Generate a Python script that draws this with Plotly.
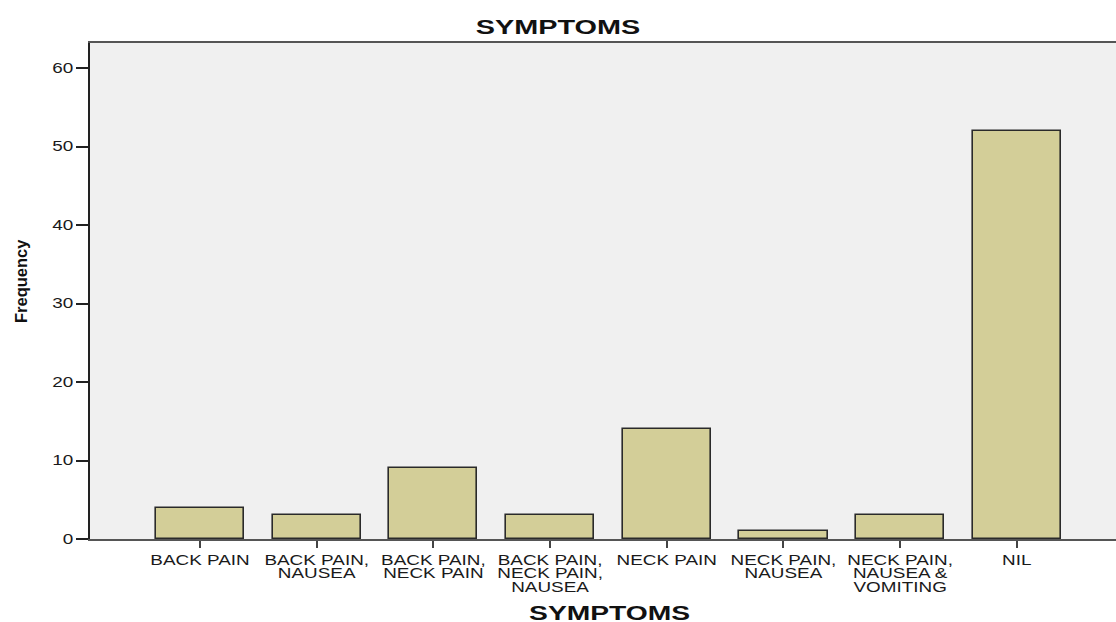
import plotly.graph_objects as go

categories = ["BACK PAIN", "BACK PAIN,<br>NAUSEA", "BACK PAIN,<br>NECK PAIN",
              "BACK PAIN,<br>NECK PAIN,<br>NAUSEA", "NECK PAIN", "NECK PAIN,<br>NAUSEA",
              "NECK PAIN,<br>NAUSEA &<br>VOMITING", "NIL"]
frequency = [4, 3, 9, 3, 14, 1, 3, 52]
y_ticks = [0, 10, 20, 30, 40, 50, 60]

FONT = "Liberation Sans, Arial, sans-serif"

fig = go.Figure(go.Bar(
    x=categories, y=frequency, width=0.755,
    marker=dict(color="#D3CE98", line=dict(color="#2a2a2a", width=1.6)),
))

fig.update_layout(
    width=1116, height=622,
    margin=dict(l=90, r=0, t=43, b=83),
    paper_bgcolor="white", plot_bgcolor="#F0F0F0",
    font=dict(family=FONT, color="#1a1a1a"),
    title=dict(text="<b>SYMPTOMS</b>", x=0.5, xanchor="center",
               yref="container", y=1 - 27 / 622, yanchor="middle",
               font=dict(size=19.5, color="#111")),
    showlegend=False,
    bargap=0,
    annotations=[
        dict(text="<b>SYMPTOMS</b>", xref="paper", yref="paper",
             x=(609.5 - 90) / 1026, y=(539 - 613) / 496,
             xanchor="center", yanchor="middle", showarrow=False,
             font=dict(size=19.5, color="#111", family=FONT)),
        dict(text="<b>Frequency</b>", xref="paper", yref="paper",
             x=(21 - 90) / 1026, y=(539 - 281) / 496, textangle=-90,
             xanchor="center", yanchor="middle", showarrow=False,
             font=dict(size=16.5, color="#111", family=FONT)),
    ],
)
fig.update_xaxes(
    type="category", range=[-0.943, 7.85],
    showline=True, linecolor="#555", linewidth=2, mirror=True,
    ticks="outside", ticklen=7, tickwidth=2, tickcolor="#444",
    tickfont=dict(size=14, color="#1a1a1a"), showgrid=False, tickangle=0,
)
fig.update_yaxes(
    range=[0, 63.2], tickvals=y_ticks,
    showline=True, linecolor="#222", linewidth=2,
    ticks="outside", ticklen=12, tickwidth=2, tickcolor="#222",
    tickfont=dict(size=14, color="#1a1a1a"), showgrid=False, zeroline=False,
)

post = """
document.body.style.margin = '0';
document.body.style.overflow = 'hidden';
function stretchEl(t, f) {
  var x = parseFloat(t.getAttribute('x')) || 0;
  var tr = t.getAttribute('transform') || '';
  t.setAttribute('transform', tr + ' translate(' + x + ',0) scale(' + f + ',1) translate(' + (-x) + ',0)');
}
function stretch(sel, f) {
  document.querySelectorAll(sel).forEach(function (t) { stretchEl(t, f); });
}
document.querySelectorAll('.xtick text tspan.line').forEach(function (t) {
  var dy = t.getAttribute('dy');
  if (dy && dy.indexOf('em') > 0) {
    t.setAttribute('dy', (parseFloat(dy) * 0.75) + 'em');
  }
});
stretch('.xtick text', 1.35);
stretch('.ytick text', 1.35);
stretch('.gtitle', 1.48);
var anns = document.querySelectorAll('text.annotation-text');
if (anns.length > 0) { stretchEl(anns[0], 1.45); }
"""

fig.write_html("out.html", post_script=post, config={"displayModeBar": False})
